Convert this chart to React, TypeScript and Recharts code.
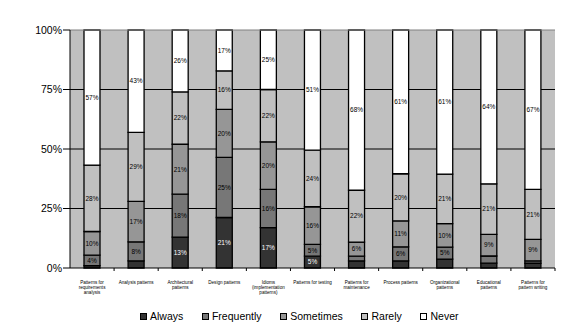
import { BarChart, Bar, XAxis, YAxis, CartesianGrid, Legend, LabelList, ReferenceLine } from 'recharts';

const categories = [
  'Patterns for requirements analysis',
  'Analysis patterns',
  'Architectural patterns',
  'Design patterns',
  'Idioms (implementation patterns)',
  'Patterns for testing',
  'Patterns for maintenance',
  'Process patterns',
  'Organizational patterns',
  'Educational patterns',
  'Patterns for pattern writing',
];

// how each category name wraps under the axis
const tickLines = [
  ['Patterns for', 'requirements', 'analysis'],
  ['Analysis patterns'],
  ['Architectural', 'patterns'],
  ['Design patterns'],
  ['Idioms', '(implementation', 'patterns)'],
  ['Patterns for testing'],
  ['Patterns for', 'maintenance'],
  ['Process patterns'],
  ['Organizational', 'patterns'],
  ['Educational', 'patterns'],
  ['Patterns for', 'pattern writing'],
];

const always = [1, 3, 13, 21, 17, 5, 3, 3, 3.8, 2, 2];
const frequently = [4.4, 8, 18, 25, 16, 5, 2, 6, 5, 3, 1];
const sometimes = [10, 17, 21, 20, 20, 16, 6, 11, 10, 9, 9];
const rarely = [28, 29, 22, 16, 22, 24, 22, 20, 21, 21, 21];
const never = [57, 43, 26, 17, 25, 51, 68, 61, 61, 64, 67];

const yTicks = [0, 0.25, 0.5, 0.75, 1];

const data = categories.map((name, i) => ({
  name,
  Always: always[i],
  Frequently: frequently[i],
  Sometimes: sometimes[i],
  Rarely: rarely[i],
  Never: never[i],
}));

const series = [
  { key: 'Always', color: '#333333', text: '#ffffff' },
  { key: 'Frequently', color: '#777777', text: '#000000' },
  { key: 'Sometimes', color: '#969696', text: '#000000' },
  { key: 'Rarely', color: '#c0c0c0', text: '#000000' },
  { key: 'Never', color: '#ffffff', text: '#000000' },
];

const FONT = 'Arial, "Liberation Sans", sans-serif';
const W = 576;
const H = 333;
const MARGIN = { top: 30, right: 21, bottom: 4, left: 0 };
const Y_W = 70;
const STEP = (W - MARGIN.left - MARGIN.right - Y_W) / categories.length;

function CategoryTick(props: any) {
  const { x, y, index } = props;
  const lines = tickLines[index] || [];
  return (
    <g>
      <line x1={x + STEP / 2} x2={x + STEP / 2} y1={y} y2={y + 3} stroke="#000" strokeWidth={1} />
      <text x={x} y={y + 15.5} textAnchor="middle" fontSize={4.6} fontFamily={FONT} fill="#000">
        {lines.map((l: string, i: number) => (
          <tspan key={i} x={x} dy={i === 0 ? 0 : 5}>{l}</tspan>
        ))}
      </text>
    </g>
  );
}

function makeLabel(textColor: string) {
  return (props: any) => {
    const { x, y, width, height, value } = props;
    if (value == null || value < 4) return null;
    return (
      <text
        x={x + width / 2}
        y={y + height / 2}
        dy="0.35em"
        textAnchor="middle"
        fontSize={6.5}
        fontFamily={FONT}
        fill={textColor}
      >
        {Math.round(value)}%
      </text>
    );
  };
}

function LegendBox() {
  return (
    <div style={{ display: 'flex', alignItems: 'center', paddingLeft: 140, height: 26, fontFamily: FONT, fontSize: 10.5, color: '#000' }}>
      {series.map((s, i) => (
        <div key={s.key} style={{ display: 'flex', alignItems: 'center', marginRight: i < series.length - 1 ? 18.7 : 0 }}>
          <span style={{ width: 5, height: 5, border: '1px solid #000', background: s.color, marginRight: 3 }} />
          <span>{s.key}</span>
        </div>
      ))}
    </div>
  );
}

export default function App() {
  return (
    <div style={{ position: 'absolute', left: 0, top: 0, width: W, height: H, background: '#fff' }}>
      <BarChart width={W} height={H} data={data} stackOffset="expand" margin={MARGIN} barSize={16}>
        <CartesianGrid
          vertical={false}
          horizontalValues={[0.25, 0.5, 0.75]}
          stroke="#000"
          fill="#c0c0c0"
          fillOpacity={1}
        />
        <XAxis
          dataKey="name"
          interval={0}
          height={35}
          tickLine={false}
          tickSize={0}
          tickMargin={0}
          axisLine={{ stroke: '#000' }}
          tick={<CategoryTick />}
        />
        <YAxis
          width={Y_W}
          domain={[0, 1]}
          ticks={yTicks}
          tickFormatter={(v) => `${Math.round(v * 100)}%`}
          tick={{ fontSize: 10.5, fontFamily: FONT, fill: '#000' }}
          tickSize={7}
          tickMargin={1}
          axisLine={{ stroke: '#000' }}
          tickLine={{ stroke: '#000' }}
        />
        <YAxis
          yAxisId="r"
          orientation="right"
          width={0}
          domain={[0, 1]}
          tick={false}
          tickLine={false}
          axisLine={{ stroke: '#808080' }}
        />
        <ReferenceLine y={1} stroke="#808080" />
        {series.map((s) => (
          <Bar
            key={s.key}
            dataKey={s.key}
            stackId="a"
            fill={s.color}
            stroke="#000"
            strokeWidth={1.3}
            isAnimationActive={false}
          >
            <LabelList dataKey={s.key} content={makeLabel(s.text)} />
          </Bar>
        ))}
        <Legend
          verticalAlign="bottom"
          height={26}
          wrapperStyle={{ left: 0, width: W, bottom: MARGIN.bottom }}
          content={<LegendBox />}
        />
      </BarChart>
    </div>
  );
}
